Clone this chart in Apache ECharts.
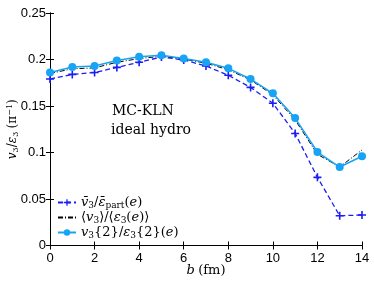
<!DOCTYPE html>
<html><head><meta charset="utf-8">
<script src="https://cdn.jsdelivr.net/npm/echarts@6/dist/echarts.min.js"></script>
<style>html,body{margin:0;padding:0;background:#fff}#c{width:374px;height:281px}</style>
</head><body><div id="c"></div>
<script>
const bValues = [0,1,2,3,4,5,6,7,8,9,10,11,12,13,14];
const v3Part = [0.179,0.184,0.186,0.1915,0.197,0.2027,0.1995,0.193,0.183,0.170,0.153,0.1205,0.0733,0.032,0.0328];
const v3Mean = [0.185,0.190,0.191,0.197,0.201,0.2035,0.2005,0.196,0.189,0.178,0.162,0.135,0.098,0.0845,0.1027];
const v3Two  = [0.186,0.192,0.193,0.199,0.203,0.2045,0.201,0.197,0.1905,0.179,0.1637,0.137,0.1005,0.0844,0.096];
const xTicks = [0,2,4,6,8,10,12,14];
const yTicks = [0,0.05,0.1,0.15,0.2,0.25];

const serif = 'DejaVu Serif';
const plus = 'path://M4,0 L6,0 L6,4 L10,4 L10,6 L6,6 L6,10 L4,10 L4,6 L0,6 L0,4 L4,4 Z';
const chart = echarts.init(document.getElementById('c'));
const pairs = a => bValues.map((b,i)=>[b,a[i]]);
const rich = {
  i:{fontFamily:serif,fontStyle:'italic',fontSize:13,color:'#000'},
  n:{fontFamily:serif,fontSize:13,color:'#000'},
  s:{fontFamily:serif,fontSize:9,padding:[6,0,0,0],color:'#000'}
};
chart.setOption({
  animation:false,
  grid:{left:50,right:12,top:13,bottom:35.5,outerBoundsMode:'none',containLabel:false},
  xAxis:[{type:'value',min:0,max:14,interval:2,
    axisLine:{lineStyle:{color:'#000'}},
    axisTick:{inside:true,length:4,lineStyle:{color:'#000'}},
    axisLabel:{color:'#000',fontSize:13,fontFamily:'Liberation Sans',margin:6},
    splitLine:{show:false},
    name:'{i|b} {n|(fm)}',nameLocation:'middle',nameGap:19,nameMoveOverlap:false,
    nameTextStyle:{rich:{i:{fontFamily:serif,fontStyle:'italic',fontSize:13,color:'#000'},n:{fontFamily:serif,fontSize:13,color:'#000'}}}},
   {type:'value',position:'top',min:0,max:14,interval:2,
    axisLine:{show:true,lineStyle:{color:'#000'}},
    axisTick:{inside:true,length:4,lineStyle:{color:'#000'}},
    axisLabel:{show:false},splitLine:{show:false}}],
  yAxis:[{type:'value',min:0,max:0.25,interval:0.05,
    axisLine:{show:true,lineStyle:{color:'#000'}},
    axisTick:{show:true,inside:true,length:4,lineStyle:{color:'#000'}},
    axisLabel:{color:'#000',fontSize:13,fontFamily:'Liberation Sans',margin:4},
    splitLine:{show:false},
    name:'{i|v}{s|3}{n|/}{i|ε}{s|3} {n|(π}{u|−1}{n|)}',nameLocation:'middle',nameGap:30,nameRotate:90,nameMoveOverlap:false,
    nameTextStyle:{rich:{i:{fontFamily:serif,fontStyle:'italic',fontSize:12,color:'#000'},
      n:{fontFamily:serif,fontSize:12,color:'#000'},
      s:{fontFamily:serif,fontSize:8,padding:[6,0,0,0],color:'#000'},
      u:{fontFamily:serif,fontSize:8,padding:[0,0,6,0],color:'#000'}}}},
   {type:'value',position:'right',min:0,max:0.25,interval:0.05,
    axisLine:{show:true,lineStyle:{color:'#000'}},
    axisTick:{show:true,inside:true,length:4,lineStyle:{color:'#000'}},
    axisLabel:{show:false},splitLine:{show:false}}],
  legend:{left:57,top:196,orient:'vertical',itemGap:1,itemWidth:18,itemHeight:8,padding:0,
    textStyle:{fontFamily:serif,fontSize:13,color:'#000',rich:rich},
    formatter:function(name){
      if(name==='a') return '{i|v̄}{s|3}{n|/}{i|ε̄}{s|part}{n|(}{i|e}{n|)}';
      if(name==='b') return '{n|⟨}{i|v}{s|3}{n|⟩/⟨}{i|ε}{s|3}{n|(}{i|e}{n|)⟩}';
      return '{i|v}{s|3}{2}/{i|ε}{s|3}{2}({i|e})';
    },
    data:['a',{name:'b',itemStyle:{opacity:0}},'c']},
  graphic:[
    {type:'text',left:112,top:104,style:{text:'MC-KLN',font:'14px "DejaVu Serif"',fill:'#000'}},
    {type:'text',left:111,top:123,style:{text:'ideal hydro',font:'14px "DejaVu Serif"',fill:'#000'}}
  ],
  series:[
    {name:'a',type:'line',data:pairs(v3Part),symbol:plus,symbolSize:8,
     lineStyle:{color:'#1c1cf5',width:1.3,type:[5,3]},itemStyle:{color:'#1c1cf5'}},
    {name:'b',type:'line',data:pairs(v3Mean),symbol:'none',
     lineStyle:{color:'#000',width:1,type:[5,2,1,2]},itemStyle:{color:'#000'}},
    {name:'c',type:'line',data:pairs(v3Two),symbol:'circle',symbolSize:8,
     lineStyle:{color:'#17a4f5',width:1.5},itemStyle:{color:'#17a4f5'}}
  ]
});
</script></body></html>
